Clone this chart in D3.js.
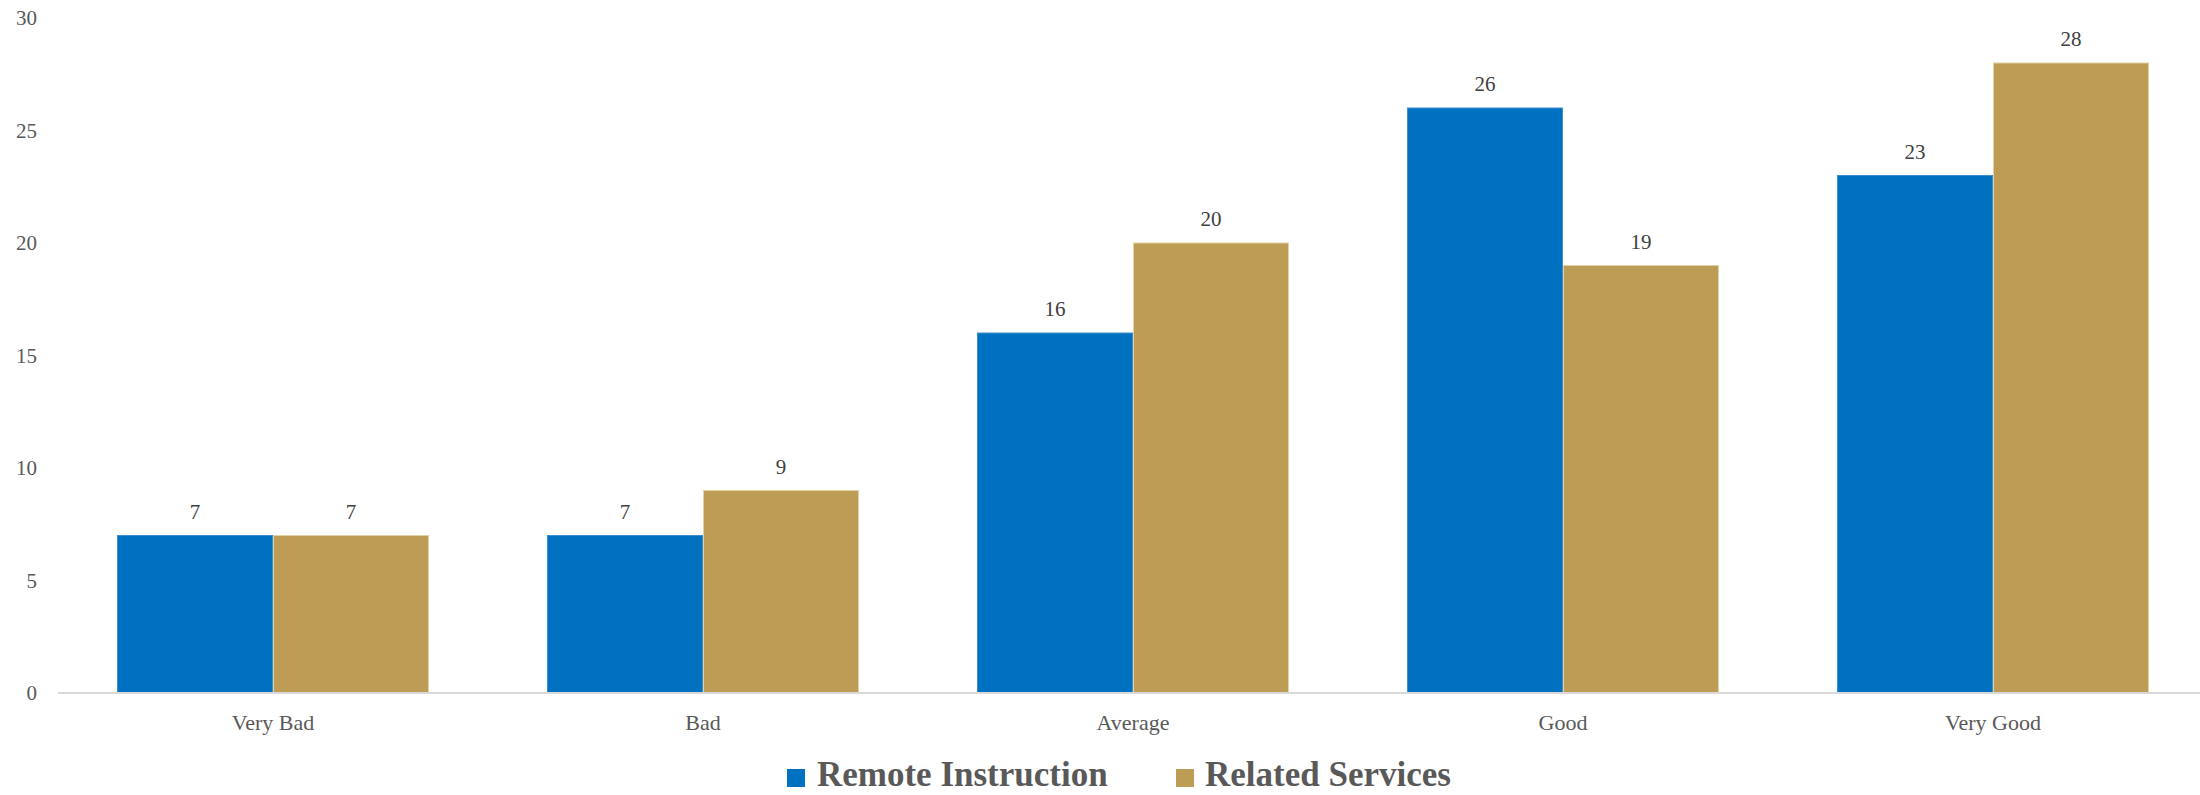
<!DOCTYPE html>
<html><head><meta charset="utf-8">
<script src="https://cdn.jsdelivr.net/npm/d3@7"></script>
<style>html,body{margin:0;padding:0;background:#fff;}</style>
</head><body>
<svg id="chart" width="2200" height="795"></svg>
<script>
const categories = ["Very Bad", "Bad", "Average", "Good", "Very Good"];
const seriesNames = ["Remote Instruction", "Related Services"];
const remoteInstruction = [7, 7, 16, 26, 23];
const relatedServices = [7, 9, 20, 19, 28];
const yTicks = [0, 5, 10, 15, 20, 25, 30];
const colors = ["#0070C0", "#BD9D55"];
const strokes = ["#3B8FD0", "#E3D2A6"];

(function () {
const svg = d3.select("#chart");
const font = "'Liberation Serif', 'Times New Roman', serif";
const textColor = "#595959";
const mLeft = 58, mRight = 2208, mTop = 18, mBottom = 693;

const x = d3.scaleBand().domain(categories).range([mLeft, mRight]).paddingInner(0.2744).paddingOuter(0.1372);
const xs = d3.scaleBand().domain(seriesNames).range([0, x.bandwidth()]).padding(0);
const y = d3.scaleLinear().domain([0, 30]).range([mBottom, mTop]);

// y-axis labels
const yAxis = d3.axisLeft(y).tickValues(yTicks).tickSize(0).tickPadding(0).tickFormat(d3.format("d"));
const ya = svg.append("g").attr("transform", "translate(37,0)").call(yAxis);
ya.select(".domain").remove();
ya.selectAll("text").attr("font-family", font).attr("font-size", 21).attr("fill", textColor).attr("dy", "0.32em");

// bars
const data = [remoteInstruction, relatedServices];
seriesNames.forEach((s, si) => {
  const g = svg.append("g");
  g.selectAll("rect").data(categories).enter().append("rect")
    .attr("x", c => x(c) + xs(s) + 0.5)
    .attr("y", (c, i) => y(data[si][i]))
    .attr("width", xs.bandwidth() - 1)
    .attr("height", (c, i) => y(0) - y(data[si][i]))
    .attr("fill", colors[si])
    .attr("stroke", strokes[si]).attr("stroke-width", 1);
  g.selectAll("text").data(categories).enter().append("text")
    .attr("x", c => x(c) + xs(s) + xs.bandwidth() / 2)
    .attr("y", (c, i) => y(data[si][i]) - 17)
    .attr("text-anchor", "middle")
    .attr("font-family", font).attr("font-size", 21).attr("fill", "#404040")
    .text((c, i) => data[si][i]);
});

// x axis
const xAxis = d3.axisBottom(x).tickSize(0).tickPadding(0);
const xa = svg.append("g").attr("transform", `translate(0,${mBottom})`).call(xAxis);
xa.select(".domain").attr("stroke", "#D9D9D9").attr("stroke-width", 2).attr("d", `M${mLeft},0H2200`);
xa.selectAll("text").attr("font-family", font).attr("font-size", 22).attr("fill", textColor).attr("y", 37).attr("dy", 0);

// legend
const legendItems = [{name: seriesNames[0], sx: 787, tx: 817}, {name: seriesNames[1], sx: 1176, tx: 1205}];
const lg = svg.append("g");
legendItems.forEach((d, i) => {
  lg.append("rect").attr("x", d.sx).attr("y", 769).attr("width", 18).attr("height", 18).attr("fill", colors[i]);
  lg.append("text").attr("x", d.tx).attr("y", 786).attr("font-family", font).attr("font-weight", "bold")
    .attr("font-size", 35).attr("fill", textColor).text(d.name);
});
})();
</script>
</body></html>
